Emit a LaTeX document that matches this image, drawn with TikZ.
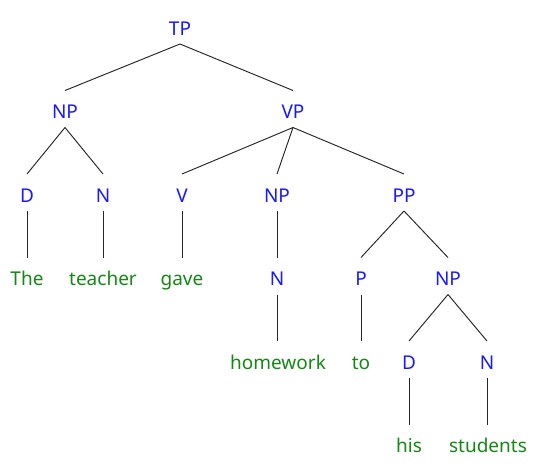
\documentclass[tikz,border=0pt]{standalone}
\usepackage{fontspec}
\setmainfont{Noto Sans}
\definecolor{catblue}{RGB}{25,25,255}
\definecolor{wordgreen}{RGB}{20,135,20}
\begin{document}
\begin{tikzpicture}[x=1pt,y=-1pt,
  lbl/.style={anchor=base,inner xsep=2pt,inner ysep=9pt,outer sep=0pt,
    text height=19pt,text depth=0pt,font=\fontsize{19}{22}\selectfont},
  cat/.style={lbl,text=catblue},
  word/.style={lbl,text=wordgreen},
  edge/.style={line width=0.95pt,draw=black!85}]
\useasboundingbox (0,0) rectangle (555,467);
% level 1
\node[cat] (TP) at (180,35) {TP};
% level 2
\node[cat] (NP1) at (65,118.5) {NP};
\node[cat] (VP) at (293,118.5) {VP};
% level 3
\node[cat] (D1) at (27,202) {D};
\node[cat] (N1) at (103,202) {N};
\node[cat] (V) at (182,202) {V};
\node[cat] (NP2) at (277,202) {NP};
\node[cat] (PP) at (404,202) {PP};
% level 4
\node[word] (The) at (27,285.5) {The};
\node[word] (teacher) at (103,285.5) {teacher};
\node[word] (gave) at (182,285.5) {gave};
\node[cat] (N2) at (277,285.5) {N};
\node[cat] (P) at (361,285.5) {P};
\node[cat] (NP3) at (448,285.5) {NP};
% level 5
\node[word] (homework) at (278,369) {homework};
\node[word] (to) at (361,369) {to};
\node[cat] (D2) at (409,369) {D};
\node[cat] (N3) at (487,369) {N};
% level 6
\node[word] (his) at (409,452.5) {his};
\node[word] (students) at (488,452.5) {students};
% edges
\draw[edge] (TP.south) -- (NP1.north);
\draw[edge] (TP.south) -- (VP.north);
\draw[edge] (NP1.south) -- (D1.north);
\draw[edge] (NP1.south) -- (N1.north);
\draw[edge] (VP.south) -- (V.north);
\draw[edge] (VP.south) -- (NP2.north);
\draw[edge] (VP.south) -- (PP.north);
\draw[edge] (D1.south) -- (The.north -| D1.south);
\draw[edge] (N1.south) -- (teacher.north -| N1.south);
\draw[edge] (V.south) -- (gave.north -| V.south);
\draw[edge] (NP2.south) -- (N2.north);
\draw[edge] (PP.south) -- (P.north);
\draw[edge] (PP.south) -- (NP3.north);
\draw[edge] (N2.south) -- (homework.north -| N2.south);
\draw[edge] (P.south) -- (to.north);
\draw[edge] (NP3.south) -- (D2.north);
\draw[edge] (NP3.south) -- (N3.north);
\draw[edge] (D2.south) -- (his.north);
\draw[edge] (N3.south) -- (students.north -| N3.south);
\end{tikzpicture}
\end{document}
